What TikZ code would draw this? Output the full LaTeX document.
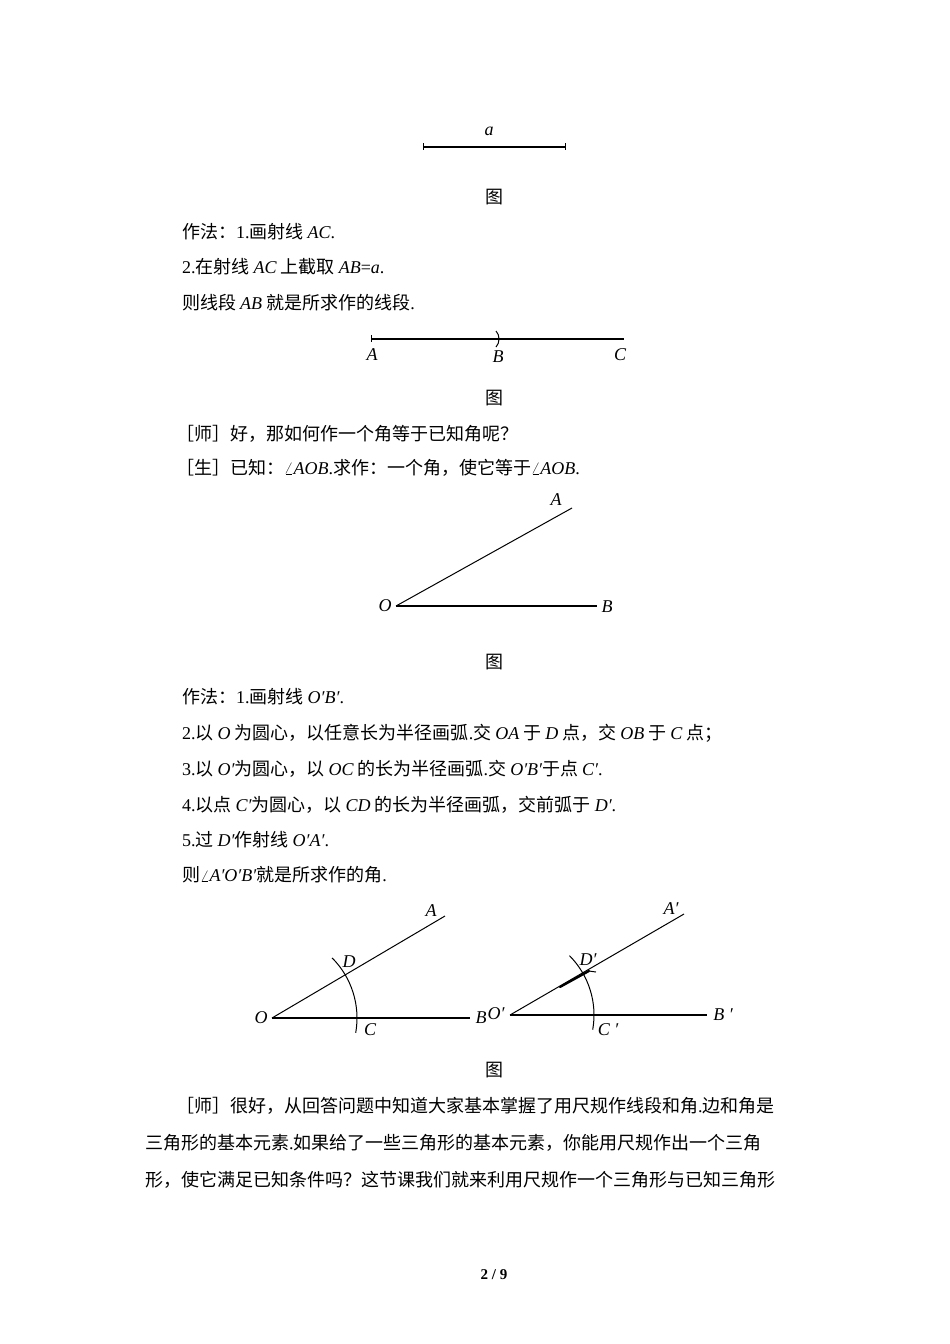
\documentclass[tikz,border=0pt]{standalone}
\usepackage{fontspec}
\usetikzlibrary{calc}
\setmainfont{Noto Sans CJK SC}
\newfontfamily\lat{Liberation Serif}
\newcommand{\mi}[1]{{\lat\itshape #1}}
\newcommand{\nm}[1]{{\lat #1}}
\begin{document}
\begin{tikzpicture}[x=1pt,y=-1pt,
  txt/.style={anchor=west,inner sep=0pt,font=\fontsize{18}{20}\selectfont},
  lbl/.style={inner sep=0pt,font=\fontsize{18}{20}\selectfont\lat\itshape},
  figcap/.style={inner sep=0pt,font=\fontsize{18}{20}\selectfont},
  ln/.style={line width=1.3pt}]
\useasboundingbox (0,0) rectangle (950,1344);
% figure 1
\node[lbl] (la) at (489,131) {a};
\coordinate (s1) at (423,147); \coordinate (s2) at (565,147);
\draw[ln] (s1) -- (s2);
\draw[line width=1pt] (423,143) -- (423,150) (565,143) -- (565,150);
\node[figcap] (c1) at (494,197) {图};
\node[txt] (t1) at (182,232) {作法：\nm{1.}画射线 \mi{AC}\nm{.}};
\node[txt] (t2) at (182,267) {\nm{2.}在射线 \mi{AC} 上截取 \mi{AB}\nm{=}\mi{a}\nm{.}};
\node[txt] (t3) at (182,303) {则线段 \mi{AB} 就是所求作的线段\nm{.}};
% figure 2
\coordinate (pA) at (371,339); \coordinate (pC) at (624,339);
\draw[ln] (pA) -- (pC);
\draw[line width=1pt] (371,335) -- (371,342);
\draw[line width=1pt] (496,331) .. controls (500,335) and (500,343) .. (496,347);
\node[lbl] (lA) at (372,355) {A};
\node[lbl] (lB) at (498,357) {B};
\node[lbl] (lC) at (620,355) {C};
\node[figcap] (c2) at (494,398) {图};
\node[txt] (t4) at (176,434) {［师］好，那如何作一个角等于已知角呢？};
\node[txt] (t5) at (176,468) {［生］已知：$\angle$\mi{AOB}\nm{.}求作：一个角，使它等于$\angle$\mi{AOB}\nm{.}};
% figure 3
\coordinate (O) at (396,606); \coordinate (A) at (572,508); \coordinate (B) at (597,606);
\draw[line width=1pt] (O) -- (A);
\draw[ln] (O) -- (B);
\node[lbl] (lA3) at (556,500) {A};
\node[lbl] (lO3) at (385,606) {O};
\node[lbl] (lB3) at (607,607) {B};
\node[figcap] (c3) at (494,662) {图};
\node[txt] (t6) at (182,697) {作法：\nm{1.}画射线 \mi{O′B′}\nm{.}};
\node[txt] (t7) at (182,733) {\nm{2.}以 \mi{O} 为圆心，以任意长为半径画弧\nm{.}交 \mi{OA} 于 \mi{D} 点，交 \mi{OB} 于 \mi{C} 点；};
\node[txt] (t8) at (182,769) {\nm{3.}以 \mi{O′}为圆心，以 \mi{OC} 的长为半径画弧\nm{.}交 \mi{O′B′}于点 \mi{C′}\nm{.}};
\node[txt] (t9) at (182,805) {\nm{4.}以点 \mi{C′}为圆心，以 \mi{CD} 的长为半径画弧，交前弧于 \mi{D′}\nm{.}};
\node[txt] (t10) at (182,840) {\nm{5.}过 \mi{D′}作射线 \mi{O′A′}\nm{.}};
\node[txt] (t11) at (182,875) {则$\angle$\mi{A′O′B′}就是所求作的角\nm{.}};
% figure 4 left
\coordinate (O4) at (272,1018); \coordinate (A4) at (445,916); \coordinate (B4) at (470,1018);
\draw[line width=1pt] (O4) -- (A4);
\draw[ln] (O4) -- (B4);
\draw[line width=1pt] ($(O4)+(10:85)$) arc[start angle=10,end angle=-45,radius=85];
\node[lbl] (lA4) at (431,911) {A};
\node[lbl] (lD4) at (349,962) {D};
\node[lbl] (lO4) at (261,1018) {O};
\node[lbl] (lC4) at (370,1030) {C};
\node[lbl] (lB4) at (481,1018) {B};
% figure 4 right
\coordinate (O5) at (510,1015); \coordinate (A5) at (684,914); \coordinate (B5) at (707,1015);
\draw[line width=1pt] (O5) -- (A5);
\draw[ln] (O5) -- (B5);
\draw[line width=1pt] ($(O5)+(10:84)$) arc[start angle=10,end angle=-45,radius=84];
\draw[line width=2.2pt,line cap=round] (560,987) -- (589,971);
\draw[line width=1pt] (589,971) -- (596,972);
\node[lbl] (lA5) at (671,909) {A′};
\node[lbl] (lD5) at (588,960) {D′};
\node[lbl] (lO5) at (496,1014) {O′};
\node[lbl] (lC5) at (608,1030) {C ′};
\node[lbl] (lB5) at (723,1015) {B ′};
\node[figcap] (c4) at (494,1070) {图};
% paragraph
\node[txt] (p1) at (176,1106) {［师］很好，从回答问题中知道大家基本掌握了用尺规作线段和角\nm{.}边和角是};
\node[txt] (p2) at (145,1143) {三角形的基本元素\nm{.}如果给了一些三角形的基本元素，你能用尺规作出一个三角};
\node[txt] (p3) at (145,1180) {形，使它满足已知条件吗？这节课我们就来利用尺规作一个三角形与已知三角形};
\node[figcap,font=\fontsize{15}{18}\selectfont\lat\bfseries] (pg) at (494,1275) {2 / 9};
\end{tikzpicture}
\end{document}
